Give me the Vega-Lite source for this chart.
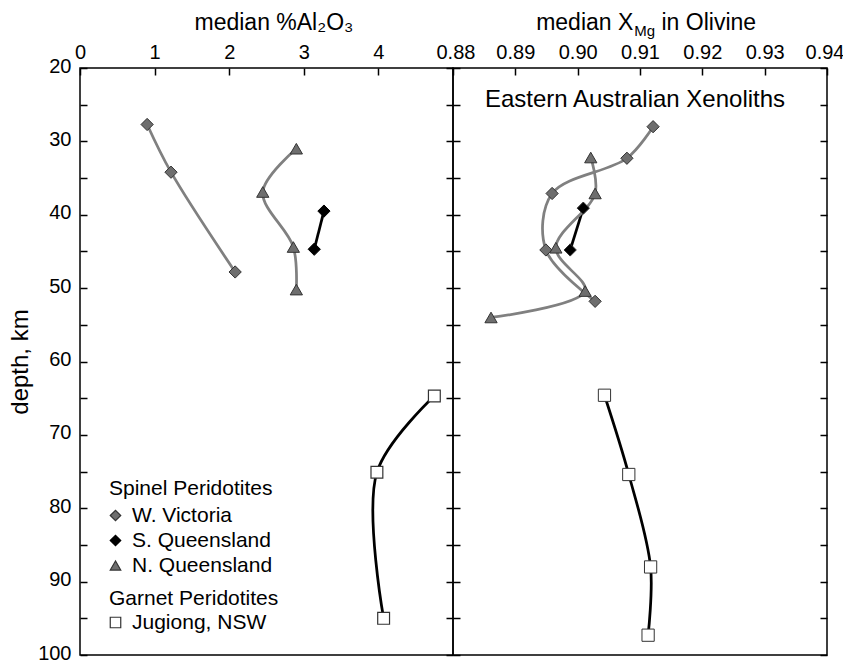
{
  "$schema": "https://vega.github.io/schema/vega-lite/v6.json",
  "padding": {"left": 7, "top": 11, "right": 0, "bottom": 0},
  "background": "white",
  "spacing": 0,
  "bounds": "flush",
  "config": {
    "font": "Liberation Sans",
    "view": {"stroke": "black", "strokeWidth": 1.5},
    "axis": {
      "domain": false, "grid": false, "tickColor": "black", "tickWidth": 1.5, "tickSize": -7,
      "labelFontSize": 20, "labelColor": "black", "labelFont": "Liberation Sans", "labelFlush": false,
      "titleFontSize": 24, "titleFontWeight": "normal", "titleColor": "black", "titleFont": "Liberation Sans"
    },
    "legend": {
      "titleFontSize": 21, "labelFontSize": 21, "titleFontWeight": "normal", "titleColor": "black",
      "labelColor": "black", "titleFont": "Liberation Sans", "labelFont": "Liberation Sans",
      "symbolStrokeWidth": 1.2, "padding": 0, "rowPadding": 3,
      "titlePadding": 6, "labelOffset": 6, "symbolSize": 110, "symbolOffset": -4
    }
  },
  "datasets": {
    "al": [
      {"suite": "Spinel", "series": "W. Victoria", "depth": 27.7, "al": 0.90},
      {"suite": "Spinel", "series": "W. Victoria", "depth": 34.2, "al": 1.22},
      {"suite": "Spinel", "series": "W. Victoria", "depth": 47.8, "al": 2.08},
      {"suite": "Spinel", "series": "S. Queensland", "depth": 39.5, "al": 3.27},
      {"suite": "Spinel", "series": "S. Queensland", "depth": 44.7, "al": 3.14},
      {"suite": "Spinel", "series": "N. Queensland", "depth": 31.0, "al": 2.90},
      {"suite": "Spinel", "series": "N. Queensland", "depth": 36.9, "al": 2.45},
      {"suite": "Spinel", "series": "N. Queensland", "depth": 44.4, "al": 2.86},
      {"suite": "Spinel", "series": "N. Queensland", "depth": 50.2, "al": 2.90},
      {"suite": "Garnet", "series": "Jugiong, NSW", "depth": 64.7, "al": 4.75},
      {"suite": "Garnet", "series": "Jugiong, NSW", "depth": 75.1, "al": 3.98},
      {"suite": "Garnet", "series": "Jugiong, NSW", "depth": 95.0, "al": 4.07}
    ],
    "mg": [
      {"suite": "Spinel", "series": "W. Victoria", "depth": 28.0, "xmg": 0.9121},
      {"suite": "Spinel", "series": "W. Victoria", "depth": 32.3, "xmg": 0.9079},
      {"suite": "Spinel", "series": "W. Victoria", "depth": 37.1, "xmg": 0.8959},
      {"suite": "Spinel", "series": "W. Victoria", "depth": 44.8, "xmg": 0.8949},
      {"suite": "Spinel", "series": "W. Victoria", "depth": 51.8, "xmg": 0.9028},
      {"suite": "Spinel", "series": "S. Queensland", "depth": 39.1, "xmg": 0.9009},
      {"suite": "Spinel", "series": "S. Queensland", "depth": 44.8, "xmg": 0.8988},
      {"suite": "Spinel", "series": "N. Queensland", "depth": 32.2, "xmg": 0.9021},
      {"suite": "Spinel", "series": "N. Queensland", "depth": 37.1, "xmg": 0.9028},
      {"suite": "Spinel", "series": "N. Queensland", "depth": 44.5, "xmg": 0.8965},
      {"suite": "Spinel", "series": "N. Queensland", "depth": 50.4, "xmg": 0.9012},
      {"suite": "Spinel", "series": "N. Queensland", "depth": 54.0, "xmg": 0.8861},
      {"suite": "Garnet", "series": "Jugiong, NSW", "depth": 64.6, "xmg": 0.9043},
      {"suite": "Garnet", "series": "Jugiong, NSW", "depth": 75.4, "xmg": 0.9082},
      {"suite": "Garnet", "series": "Jugiong, NSW", "depth": 88.0, "xmg": 0.9117},
      {"suite": "Garnet", "series": "Jugiong, NSW", "depth": 97.3, "xmg": 0.9113}
    ]
  },
  "hconcat": [
    {
      "width": 373,
      "height": 587,
      "data": {"name": "al"},
      "resolve": {"axis": {"y": "independent"}, "scale": {"shape": "independent", "fill": "independent", "stroke": "independent"}},
      "layer": [
        {
          "mark": {"type": "line", "interpolate": "catmull-rom", "strokeWidth": 2.75},
          "encoding": {
            "x": {"field": "al", "type": "quantitative", "scale": {"domain": [0, 5], "nice": false, "zero": false},
                  "axis": {"orient": "top", "values": [0, 1, 2, 3, 4], "title": null, "labelPadding": 13, "format": "d"}},
            "y": {"field": "depth", "type": "quantitative", "scale": {"domain": [20, 100], "nice": false, "reverse": true, "zero": false},
                  "axis": {"orient": "left", "values": [20, 25, 30, 35, 40, 45, 50, 55, 60, 65, 70, 75, 80, 85, 90, 95, 100],
                           "labelExpr": "datum.value % 10 === 0 ? datum.label : ''", "labelPadding": 16, "labelOffset": -2,
                           "title": "depth, km", "titlePadding": 5}},
            "color": {"field": "series", "type": "nominal",
                      "scale": {"domain": ["W. Victoria", "S. Queensland", "N. Queensland", "Jugiong, NSW"], "range": ["#808080", "#000000", "#808080", "#000000"]},
                      "legend": null},
            "order": {"field": "depth", "type": "quantitative"}
          }
        },
        {
          "transform": [{"filter": "datum.suite === 'Spinel'"}],
          "mark": {"type": "point", "filled": false, "size": 150, "strokeWidth": 1, "opacity": 1},
          "encoding": {
            "x": {"field": "al", "type": "quantitative", "scale": {"domain": [0, 5], "nice": false, "zero": false}},
            "y": {"field": "depth", "type": "quantitative", "scale": {"domain": [20, 100], "nice": false, "reverse": true, "zero": false},
                  "axis": {"orient": "right", "values": [20, 25, 30, 35, 40, 45, 50, 55, 60, 65, 70, 75, 80, 85, 90, 95, 100], "labels": false, "title": null}},
            "shape": {"field": "series", "type": "nominal",
                      "scale": {"domain": ["W. Victoria", "S. Queensland", "N. Queensland"], "range": ["diamond", "diamond", "triangle-up"]},
                      "legend": {"title": "Spinel Peridotites", "orient": "none", "legendX": 29, "legendY": 410}},
            "fill": {"field": "series", "type": "nominal",
                     "scale": {"domain": ["W. Victoria", "S. Queensland", "N. Queensland"], "range": ["#6e6e6e", "#000000", "#6e6e6e"]},
                     "legend": {"title": "Spinel Peridotites", "orient": "none", "legendX": 29, "legendY": 410}},
            "stroke": {"field": "series", "type": "nominal",
                       "scale": {"domain": ["W. Victoria", "S. Queensland", "N. Queensland"], "range": ["#333333", "#000000", "#333333"]},
                       "legend": {"title": "Spinel Peridotites", "orient": "none", "legendX": 29, "legendY": 410}}
          }
        },
        {
          "transform": [{"filter": "datum.suite === 'Garnet'"}],
          "mark": {"type": "point", "filled": false, "fill": "#ffffff", "shape": "square", "size": 140, "strokeWidth": 1.2, "opacity": 1},
          "encoding": {
            "x": {"field": "al", "type": "quantitative", "scale": {"domain": [0, 5], "nice": false, "zero": false}},
            "y": {"field": "depth", "type": "quantitative", "scale": {"domain": [20, 100], "nice": false, "reverse": true, "zero": false}, "axis": null},
            "stroke": {"field": "series", "type": "nominal",
                       "scale": {"domain": ["Jugiong, NSW"], "range": ["#333333"]},
                       "legend": {"title": "Garnet Peridotites", "orient": "none", "legendX": 29, "legendY": 520, "titlePadding": 3,
                                  "symbolType": "square", "symbolFillColor": "#ffffff"}}
          }
        },
        {
          "data": {"values": [{}]},
          "mark": {"type": "text", "text": "median %Al₂O₃", "fontSize": 23, "align": "center", "baseline": "alphabetic", "color": "black"},
          "encoding": {
            "x": {"datum": 2.6, "type": "quantitative", "scale": {"domain": [0, 5], "nice": false, "zero": false}},
            "y": {"datum": 14.82, "type": "quantitative", "scale": {"domain": [20, 100], "nice": false, "reverse": true, "zero": false}, "axis": null}
          }
        }
      ]
    },
    {
      "width": 374,
      "height": 587,
      "data": {"name": "mg"},
      "resolve": {"axis": {"y": "independent"}},
      "layer": [
        {
          "mark": {"type": "line", "interpolate": "catmull-rom", "strokeWidth": 2.75},
          "encoding": {
            "x": {"field": "xmg", "type": "quantitative", "scale": {"domain": [0.88, 0.94], "nice": false, "zero": false},
                  "axis": {"orient": "top", "values": [0.88, 0.89, 0.9, 0.91, 0.92, 0.93, 0.94], "format": ".2f", "title": null, "labelPadding": 13,
                           "labelFlush": true, "labelFlushOffset": 17}},
            "y": {"field": "depth", "type": "quantitative", "scale": {"domain": [20, 100], "nice": false, "reverse": true, "zero": false},
                  "axis": {"orient": "left", "values": [20, 25, 30, 35, 40, 45, 50, 55, 60, 65, 70, 75, 80, 85, 90, 95, 100], "labels": false, "title": null}},
            "color": {"field": "series", "type": "nominal",
                      "scale": {"domain": ["W. Victoria", "S. Queensland", "N. Queensland", "Jugiong, NSW"], "range": ["#808080", "#000000", "#808080", "#000000"]},
                      "legend": null},
            "order": {"field": "depth", "type": "quantitative"}
          }
        },
        {
          "mark": {"type": "point", "filled": false, "size": 150, "stroke": "#333333", "strokeWidth": 1, "opacity": 1},
          "encoding": {
            "x": {"field": "xmg", "type": "quantitative", "scale": {"domain": [0.88, 0.94], "nice": false, "zero": false}},
            "y": {"field": "depth", "type": "quantitative", "scale": {"domain": [20, 100], "nice": false, "reverse": true, "zero": false},
                  "axis": {"orient": "right", "values": [20, 25, 30, 35, 40, 45, 50, 55, 60, 65, 70, 75, 80, 85, 90, 95, 100], "labels": false, "title": null}},
            "shape": {"field": "series", "type": "nominal",
                      "scale": {"domain": ["W. Victoria", "S. Queensland", "N. Queensland", "Jugiong, NSW"], "range": ["diamond", "diamond", "triangle-up", "square"]},
                      "legend": null},
            "fill": {"field": "series", "type": "nominal",
                     "scale": {"domain": ["W. Victoria", "S. Queensland", "N. Queensland", "Jugiong, NSW"], "range": ["#6e6e6e", "#000000", "#6e6e6e", "#ffffff"]},
                     "legend": null}
          }
        },
        {
          "data": {"values": [{}]},
          "mark": {"type": "text", "text": "median X", "fontSize": 23, "align": "right", "baseline": "alphabetic", "color": "black"},
          "encoding": {
            "x": {"datum": 0.90893, "type": "quantitative", "scale": {"domain": [0.88, 0.94], "nice": false, "zero": false}},
            "y": {"datum": 14.82, "type": "quantitative", "scale": {"domain": [20, 100], "nice": false, "reverse": true, "zero": false}, "axis": null}
          }
        },
        {
          "data": {"values": [{}]},
          "mark": {"type": "text", "text": "Mg", "fontSize": 15, "align": "left", "baseline": "alphabetic", "color": "black"},
          "encoding": {
            "x": {"datum": 0.90909, "type": "quantitative", "scale": {"domain": [0.88, 0.94], "nice": false, "zero": false}},
            "y": {"datum": 15.7, "type": "quantitative", "scale": {"domain": [20, 100], "nice": false, "reverse": true, "zero": false}, "axis": null}
          }
        },
        {
          "data": {"values": [{}]},
          "mark": {"type": "text", "text": "in Olivine", "fontSize": 23, "align": "left", "baseline": "alphabetic", "color": "black"},
          "encoding": {
            "x": {"datum": 0.91345, "type": "quantitative", "scale": {"domain": [0.88, 0.94], "nice": false, "zero": false}},
            "y": {"datum": 14.82, "type": "quantitative", "scale": {"domain": [20, 100], "nice": false, "reverse": true, "zero": false}, "axis": null}
          }
        },
        {
          "data": {"values": [{}]},
          "mark": {"type": "text", "text": "Eastern Australian Xenoliths", "fontSize": 24, "align": "center", "baseline": "alphabetic", "color": "black"},
          "encoding": {
            "x": {"datum": 0.9092, "type": "quantitative", "scale": {"domain": [0.88, 0.94], "nice": false, "zero": false}},
            "y": {"datum": 25.3, "type": "quantitative", "scale": {"domain": [20, 100], "nice": false, "reverse": true, "zero": false}, "axis": null}
          }
        }
      ]
    }
  ],
  "resolve": {"scale": {"shape": "independent", "fill": "independent", "color": "independent", "stroke": "independent"}}
}
